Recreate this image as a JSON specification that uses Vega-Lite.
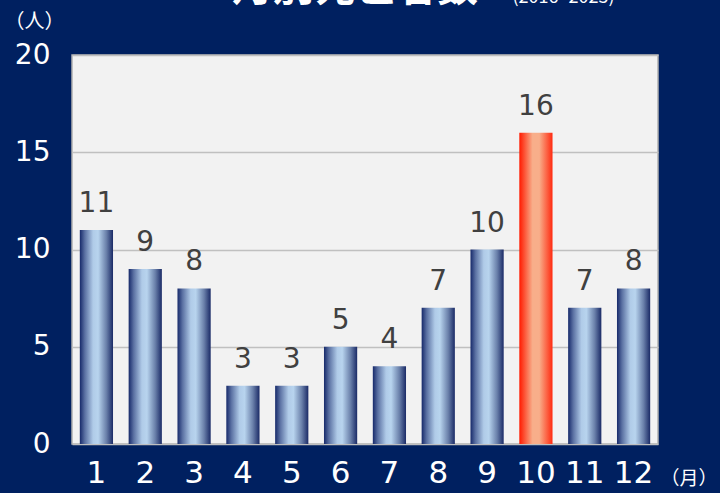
{
  "$schema": "https://vega.github.io/schema/vega-lite/v6.json",
  "width": 586,
  "height": 389,
  "autosize": {"type": "none"},
  "padding": {"left": 72, "top": 55, "right": 62, "bottom": 49},
  "background": "#002060",
  "title": {
    "text": "月別死亡者数",
    "color": "#ffffff",
    "font": "Noto Sans CJK JP",
    "fontSize": 41,
    "fontWeight": "bold",
    "anchor": "middle",
    "dx": -10,
    "offset": -22
  },
  "config": {
    "view": {"fill": "#f2f2f2", "stroke": "#b0b0b0", "strokeWidth": 1.5},
    "font": "DejaVu Sans"
  },
  "data": {
    "values": [
      {"month": "1", "deaths": 11},
      {"month": "2", "deaths": 9},
      {"month": "3", "deaths": 8},
      {"month": "4", "deaths": 3},
      {"month": "5", "deaths": 3},
      {"month": "6", "deaths": 5},
      {"month": "7", "deaths": 4},
      {"month": "8", "deaths": 7},
      {"month": "9", "deaths": 10},
      {"month": "10", "deaths": 16},
      {"month": "11", "deaths": 7},
      {"month": "12", "deaths": 8}
    ]
  },
  "encoding": {
    "x": {
      "field": "month",
      "type": "nominal",
      "sort": null,
      "scale": {"paddingInner": 0.32, "paddingOuter": 0.16},
      "axis": {
        "title": "（月）",
        "titleFont": "Noto Sans CJK JP",
        "titleColor": "#ffffff",
        "titleFontSize": 19,
        "titleFontWeight": "normal",
        "titleAngle": 0,
        "titleAlign": "left",
        "titleBaseline": "middle",
        "titleX": 588,
        "titleY": 34,
        "labelAngle": 0,
        "labelColor": "#ffffff",
        "labelFontSize": 31,
        "labelPadding": 14,
        "ticks": false,
        "domain": false,
        "grid": false
      }
    },
    "y": {
      "field": "deaths",
      "type": "quantitative",
      "scale": {"domain": [0, 20]},
      "axis": {
        "values": [0, 5, 10, 15, 20],
        "title": "（人）",
        "titleFont": "Noto Sans CJK JP",
        "titleColor": "#ffffff",
        "titleFontSize": 20,
        "titleFontWeight": "normal",
        "titleAngle": 0,
        "titleAlign": "center",
        "titleBaseline": "middle",
        "titleX": -38,
        "titleY": -34,
        "labelColor": "#ffffff",
        "labelFontSize": 28,
        "labelPadding": 22,
        "ticks": false,
        "domain": false,
        "gridColor": "#c0c0c0",
        "gridWidth": 1.5
      }
    }
  },
  "layer": [
    {
      "mark": {"type": "bar"},
      "encoding": {
        "color": {
          "condition": {
            "test": "datum.month == '10'",
            "value": {
              "gradient": "linear", "x1": 0, "x2": 1, "y1": 0, "y2": 0,
              "stops": [
                {"offset": 0, "color": "#ff1a00"},
                {"offset": 0.4, "color": "#f8ae8a"},
                {"offset": 0.6, "color": "#f8ae8a"},
                {"offset": 1, "color": "#ff2a10"}
              ]
            }
          },
          "value": {
            "gradient": "linear", "x1": 0, "x2": 1, "y1": 0, "y2": 0,
            "stops": [
              {"offset": 0, "color": "#16296a"},
              {"offset": 0.15, "color": "#5a70a2"},
              {"offset": 0.4, "color": "#b0cbe8"},
              {"offset": 0.55, "color": "#b8d4ee"},
              {"offset": 0.8, "color": "#6a80aa"},
              {"offset": 1, "color": "#1a2a66"}
            ]
          }
        }
      }
    },
    {
      "mark": {"type": "text", "baseline": "alphabetic", "dy": -18, "fontSize": 28, "color": "#404040"},
      "encoding": {
        "text": {"field": "deaths", "type": "quantitative"},
        "y": {
          "field": "deaths",
          "type": "quantitative",
          "axis": {
            "orient": "right",
            "labels": false,
            "ticks": false,
            "domain": false,
            "grid": false,
            "title": "(2016~2025)",
            "titleFont": "Noto Sans CJK JP",
            "titleColor": "#ffffff",
            "titleFontSize": 18,
            "titleFontWeight": "normal",
            "titleAngle": 0,
            "titleAlign": "center",
            "titleBaseline": "bottom",
            "titleX": -95,
            "titleY": -49
          }
        }
      }
    }
  ],
  "resolve": {"axis": {"y": "independent"}}
}
